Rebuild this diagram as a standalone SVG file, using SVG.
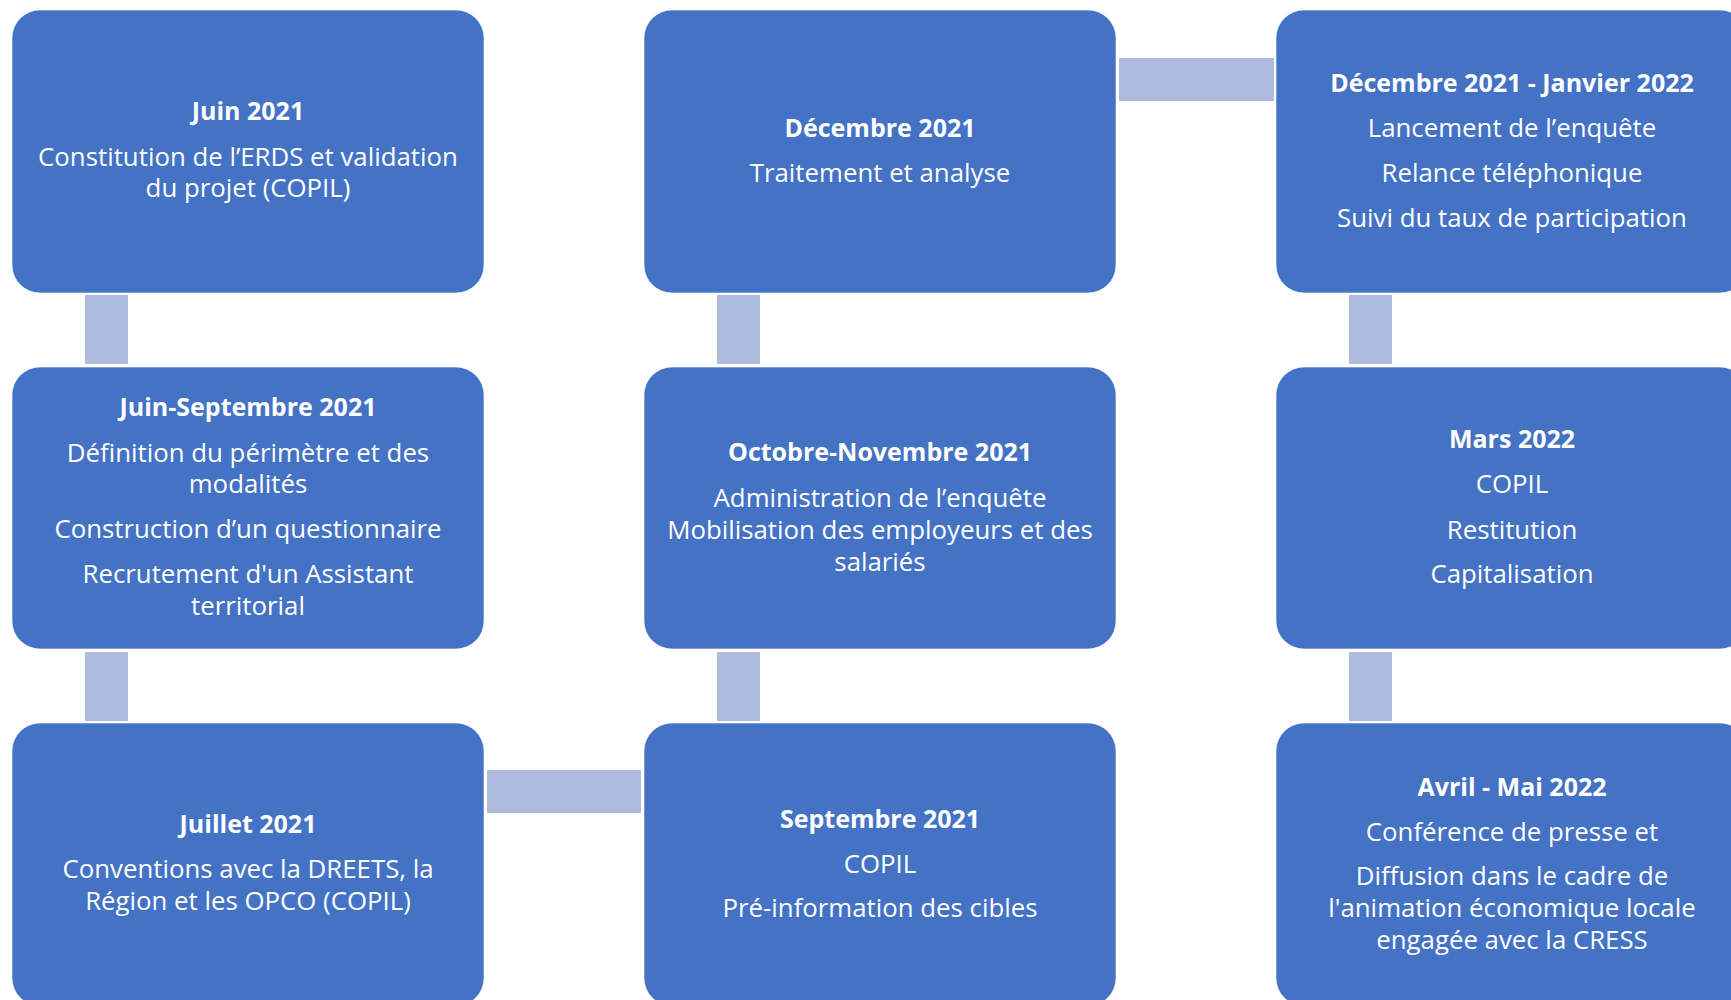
<svg xmlns="http://www.w3.org/2000/svg" width="1731" height="1000" viewBox="0 0 1731 1000">
<style>
.box{fill:#4472C4;stroke:#FFFFFF;stroke-opacity:0.6;stroke-width:1}
.conn{fill:#AFBBDD}
text{font-family:"Open Sans","Liberation Sans",sans-serif;fill:#FFFFFF;text-anchor:middle;font-size:25.8px}
.t{font-weight:bold;font-size:25px}
</style>
<rect width="1731" height="1000" fill="#FFFFFF"/>
<g id="connectors">
<rect class="conn" x="85" y="295" width="43" height="69"/>
<rect class="conn" x="85" y="652" width="43" height="69"/>
<rect class="conn" x="487" y="770" width="154" height="43"/>
<rect class="conn" x="717" y="652" width="43" height="69"/>
<rect class="conn" x="717" y="295" width="43" height="69"/>
<rect class="conn" x="1119" y="58" width="155" height="43"/>
<rect class="conn" x="1349" y="295" width="43" height="69"/>
<rect class="conn" x="1349" y="652" width="43" height="69"/>
</g>
<g id="n1">
<rect class="box" x="12" y="10" width="472" height="283" rx="28"/>
<text x="248" y="120" class="t">Juin 2021</text>
<text x="248" y="166">Constitution de l’ERDS et validation</text>
<text x="248" y="197">du projet (COPIL)</text>
</g>
<g id="n2">
<rect class="box" x="12" y="367" width="472" height="282" rx="28"/>
<text x="248" y="416" class="t">Juin-Septembre 2021</text>
<text x="248" y="462">Définition du périmètre et des</text>
<text x="248" y="493">modalités</text>
<text x="248" y="538">Construction d’un questionnaire</text>
<text x="248" y="583">Recrutement d'un Assistant</text>
<text x="248" y="615">territorial</text>
</g>
<g id="n3">
<rect class="box" x="12" y="723" width="472" height="283" rx="28"/>
<text x="248" y="833" class="t">Juillet 2021</text>
<text x="248" y="878">Conventions avec la DREETS, la</text>
<text x="248" y="910">Région et les OPCO (COPIL)</text>
</g>
<g id="n4">
<rect class="box" x="644" y="723" width="472" height="283" rx="28"/>
<text x="880" y="828" class="t">Septembre 2021</text>
<text x="880" y="873">COPIL</text>
<text x="880" y="917">Pré-information des cibles</text>
</g>
<g id="n5">
<rect class="box" x="644" y="367" width="472" height="282" rx="28"/>
<text x="880" y="461" class="t">Octobre-Novembre 2021</text>
<text x="880" y="507">Administration de l’enquête</text>
<text x="880" y="539">Mobilisation des employeurs et des</text>
<text x="880" y="571">salariés</text>
</g>
<g id="n6">
<rect class="box" x="644" y="10" width="472" height="283" rx="28"/>
<text x="880" y="137" class="t">Décembre 2021</text>
<text x="880" y="182">Traitement et analyse</text>
</g>
<g id="n7">
<rect class="box" x="1276" y="10" width="472" height="283" rx="28"/>
<text x="1512" y="92" class="t">Décembre 2021 - Janvier 2022</text>
<text x="1512" y="137">Lancement de l’enquête</text>
<text x="1512" y="182">Relance téléphonique</text>
<text x="1512" y="227">Suivi du taux de participation</text>
</g>
<g id="n8">
<rect class="box" x="1276" y="367" width="472" height="282" rx="28"/>
<text x="1512" y="448" class="t">Mars 2022</text>
<text x="1512" y="493">COPIL</text>
<text x="1512" y="539">Restitution</text>
<text x="1512" y="583">Capitalisation</text>
</g>
<g id="n9">
<rect class="box" x="1276" y="723" width="472" height="283" rx="28"/>
<text x="1512" y="796" class="t">Avril - Mai 2022</text>
<text x="1512" y="841">Conférence de presse et</text>
<text x="1512" y="885">Diffusion dans le cadre de</text>
<text x="1512" y="917">l'animation économique locale</text>
<text x="1512" y="949">engagée avec la CRESS</text>
</g>
</svg>
